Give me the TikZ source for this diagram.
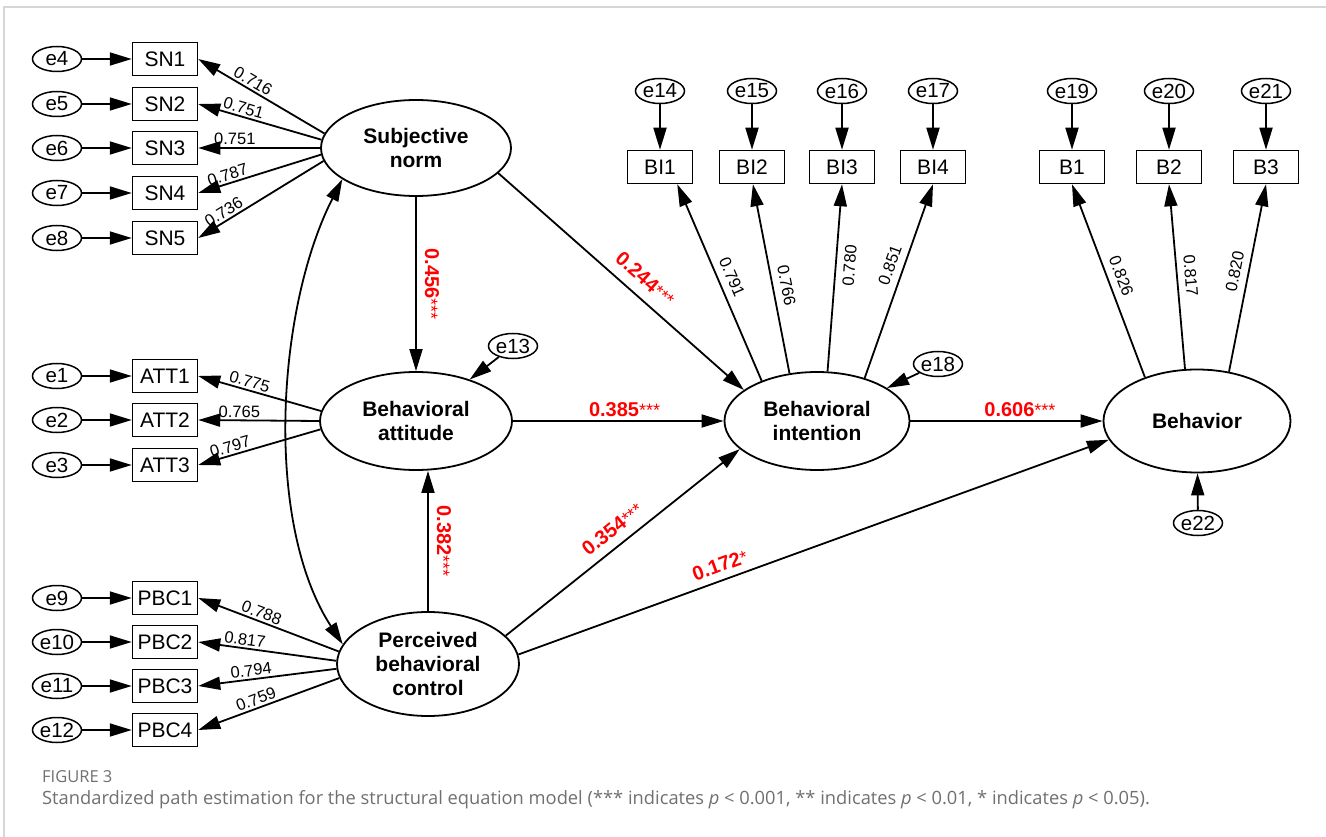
\documentclass[tikz,border=0pt]{standalone}
\usepackage{fontspec}
\setmainfont{Liberation Sans}
\newfontfamily\capfont{Open Sans}
\usetikzlibrary{shapes.geometric,arrows.meta}
\definecolor{pathred}{RGB}{255,0,0}
\definecolor{framegray}{RGB}{214,214,214}
\definecolor{capgray}{RGB}{112,112,112}
\newcommand{\stars}[1]{{\mdseries\fontsize{18}{18}\selectfont #1}}
\begin{document}
\begin{tikzpicture}[x=1pt,y=-1pt,
  err/.style={ellipse, draw, line width=1.5pt, inner sep=0pt, minimum width=49pt, minimum height=25pt, font=\fontsize{20.5}{20.5}\selectfont},
  obs/.style={rectangle, draw, line width=1.5pt, inner sep=0pt, minimum width=65pt, minimum height=33pt, font=\fontsize{21}{21}\selectfont},
  lat/.style={ellipse, draw, line width=1.8pt, inner sep=0pt, align=center, font=\bfseries\fontsize{21}{24}\selectfont},
  arr/.style={line width=1.8pt, -{Triangle[length=22pt,width=13pt]}},
  darr/.style={line width=1.8pt, {Triangle[length=22pt,width=13pt]}-{Triangle[length=22pt,width=13pt]}},
  load/.style={font=\fontsize{16.5}{16.5}\selectfont, sloped, inner sep=2pt},
  coef/.style={font=\bfseries\fontsize{20}{20}\selectfont, text=pathred, inner sep=3pt},
  frameline/.style={draw=framegray, line width=1.5pt}
]
\useasboundingbox (0,0) rectangle (1326,837);
\fill[white] (0,0) rectangle (1326,837);
\coordinate (fa) at (1326,7);
\coordinate (fb) at (4,7);
\coordinate (fc) at (4,837);
\draw[frameline] (fa) -- (fb) -- (fc);

% latent variables
\node[lat, minimum width=190pt, minimum height=96pt] (SN) at (416,148) {Subjective\\norm};
\node[lat, minimum width=192pt, minimum height=98pt] (BA) at (416,421) {Behavioral\\attitude};
\node[lat, minimum width=182pt, minimum height=104pt] (PBC) at (428,664) {Perceived\\behavioral\\control};
\node[lat, minimum width=185pt, minimum height=98pt] (BI) at (817,421) {Behavioral\\intention};
\node[lat, minimum width=187pt, minimum height=103pt] (BEH) at (1197,421) {Behavior};

% left indicators
\foreach \i/\nm/\y/\e in {1/SN1/59/e4, 2/SN2/104/e5, 3/SN3/148/e6, 4/SN4/193/e7, 5/SN5/238/e8,
                          6/ATT1/376/e1, 7/ATT2/420/e2, 8/ATT3/465/e3,
                          9/PBC1/598/e9, 10/PBC2/642/e10, 11/PBC3/686/e11, 12/PBC4/730/e12}{
  \node[obs] (\nm) at (165,\y) {\nm};
  \node[err] (\e) at (57,\y) {\e};
  \draw[arr] (\e) -- (\nm);
}

% top indicators
\foreach \nm/\x/\e in {BI1/660/e14, BI2/752/e15, BI3/842/e16, BI4/933/e17, B1/1072/e19, B2/1169/e20, B3/1266/e21}{
  \node[obs] (\nm) at (\x,167) {\nm};
  \node[err] (\e) at (\x,91) {\e};
  \draw[arr] (\e) -- (\nm);
}

% residual errors
\node[err] (e13) at (513,346) {e13};
\node[err] (e18) at (938,364) {e18};
\node[err] (e22) at (1198,523) {e22};
\draw[arr] (e13) -- (BA);
\draw[arr] (e18) -- (BI);
\draw[arr] (e22) -- (BEH);

% loadings: subjective norm
\draw[arr] (SN.171.5) -- node[load, above, pos=0.6] {0.716} (SN1.east);
\draw[arr] (SN.175.7) -- node[load, above, pos=0.65] {0.751} (SN2.east);
\draw[arr] (SN.180) -- node[load, above, pos=0.7] {0.751} (SN3.east);
\draw[arr] (SN.184.3) -- node[load, above, pos=0.74] {0.787} (SN4.east);
\draw[arr] (SN.188.5) -- node[load, above, pos=0.76] {0.736} (SN5.east);

% loadings: attitude
\draw[arr] (BA.174.6) -- node[load, above, pos=0.6] {0.775} (ATT1.east);
\draw[arr] (BA.180) -- node[load, above, pos=0.66] {0.765} (ATT2.east);
\draw[arr] (BA.185.4) -- node[load, above, pos=0.72] {0.797} (ATT3.east);

% loadings: PBC
\draw[arr] (PBC.172) -- node[load, above, pos=0.57] {0.788} (PBC1.east);
\draw[arr] (PBC.178) -- node[load, above, pos=0.67] {0.817} (PBC2.east);
\draw[arr] (PBC.183) -- node[load, above, pos=0.61] {0.794} (PBC3.east);
\draw[arr] (PBC.189) -- node[load, above, pos=0.57] {0.759} (PBC4.east);

% loadings: intention
\draw[arr] (BI.144) -- node[load, above=5pt, pos=0.5] {0.791} (BI1.-45);
\draw[arr] (BI.120) -- node[load, above=5pt, pos=0.45] {0.766} (BI2.-87);
\draw[arr] (BI.78) -- node[load, below=5pt, pos=0.57] {0.780} (BI3.south);
\draw[arr] (BI.42) -- node[load, above=5pt, pos=0.56] {0.851} (BI4.south);

% loadings: behavior
\draw[arr] (BEH.140) -- node[load, above=5pt, pos=0.5] {0.826} (B1.south);
\draw[arr] (BEH.103) -- node[load, above=5pt, pos=0.5] {0.817} (B2.south);
\draw[arr] (BEH.57) -- node[load, above=5pt, pos=0.52] {0.820} (B3.south);

% structural paths
\draw[arr] (SN) -- node[coef, pos=0.5, rotate=-90, anchor=south, inner ysep=8pt] {0.456\stars{***}} (BA);
\draw[arr] (PBC.north) -- node[coef, pos=0.5, rotate=-90, anchor=south, inner ysep=8pt] {0.382\stars{***}} (PBC.north |- BA.south);
\draw[arr] (SN.-17) -- node[coef, sloped, above=7pt, pos=0.55] {0.244\stars{***}} (BI.157);
\draw[arr] (BA) -- node[coef, above, pos=0.53] {0.385\stars{***}} (BI);
\draw[arr] (BI) -- node[coef, above, pos=0.57] {0.606\stars{***}} (BEH);
\draw[arr] (PBC.20) -- node[coef, sloped, above=6pt, pos=0.5] {0.354\stars{***}} (BI.200);
\draw[arr] (PBC.6) -- node[coef, sloped, above=4pt, pos=0.35] {0.172\stars{*}} (BEH.192);

% covariance
\draw[darr] (SN.203) to[out=243, in=123, looseness=0.8] (PBC.167);

% caption
\node[anchor=base west, inner sep=0pt, text=capgray, font=\capfont\fontsize{16.5}{16.5}\selectfont] (fig) at (42,782) {FIGURE 3};
\node[anchor=base west, inner sep=0pt, text=capgray, font=\capfont\fontsize{18.3}{18.3}\selectfont] (cap) at (42,804) {Standardized path estimation for the structural equation model (*** indicates \textit{p} {<} 0.001, ** indicates \textit{p} {<} 0.01, * indicates \textit{p} {<} 0.05).};
\end{tikzpicture}
\end{document}
